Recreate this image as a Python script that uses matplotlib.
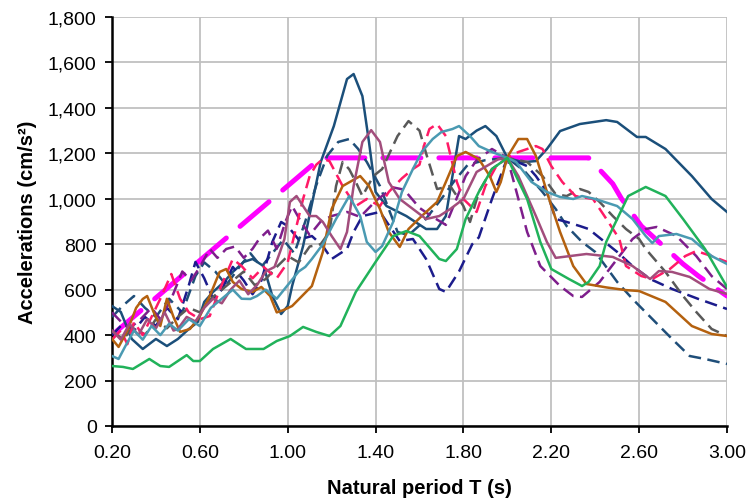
import matplotlib.pyplot as plt
from matplotlib.ticker import FixedLocator, FuncFormatter

plt.rcParams['font.family'] = ['Liberation Sans', 'DejaVu Sans']

# design spectrum (thick magenta)
design_T = [0.20, 1.15, 2.37, 2.48, 2.52, 2.61, 2.80, 2.87, 3.00]
design_A = [400, 1180, 1180, 1066, 1000, 880, 713, 660, 572]

# dark blue solid record
blue_s_T = [0.20, 0.24, 0.29, 0.34, 0.40, 0.45, 0.50, 0.55, 0.59, 0.62, 0.66, 0.71, 0.75, 0.80, 0.84,
            0.89, 0.93, 0.97, 1.00, 1.02, 1.07, 1.15, 1.21, 1.27, 1.30, 1.34, 1.37, 1.40, 1.45, 1.54,
            1.63, 1.68, 1.72, 1.75, 1.78, 1.81, 1.86, 1.90, 1.95, 2.00, 2.07, 2.13, 2.18, 2.24, 2.33,
            2.45, 2.50, 2.59, 2.63, 2.72, 2.84, 2.93, 3.00]
blue_s_A = [528, 502, 383, 339, 383, 352, 383, 427, 457, 546, 590, 634, 678, 722, 735,
            704, 572, 493, 528, 616, 792, 1161, 1320, 1527, 1549, 1452, 1250, 1030, 968, 924,
            867, 867, 924, 1100, 1276, 1263, 1300, 1320, 1276, 1180, 1161, 1166, 1219, 1298, 1329,
            1346, 1338, 1272, 1272, 1219, 1100, 999, 942]

# dark blue dashed record
blue_d_T = [0.20, 0.25, 0.30, 0.35, 0.40, 0.46, 0.52, 0.58, 0.62, 0.67, 0.72, 0.78, 0.83, 0.88, 0.93,
            0.98, 1.03, 1.08, 1.13, 1.18, 1.23, 1.28, 1.32, 1.36, 1.42, 1.46, 1.50, 1.55, 1.62, 1.70,
            1.76, 1.82, 1.90, 2.00, 2.08, 2.16, 2.22, 2.27, 2.34, 2.40, 2.45, 2.50, 2.57, 2.66, 2.75,
            2.83, 2.90, 3.00]
blue_d_A = [480, 530, 572, 520, 480, 560, 500, 660, 720, 680, 620, 700, 760, 700, 760,
            820, 760, 900, 1060, 1190, 1250, 1263, 1220, 1162, 1056, 955, 854, 840, 900, 1000,
            1080, 1150, 1170, 1180, 1120, 1030, 955, 880, 810, 766, 700, 634, 559, 471, 383,
            308, 295, 273]

# navy dashed record
navy_T = [0.20, 0.25, 0.30, 0.35, 0.40, 0.45, 0.50, 0.55, 0.58, 0.62, 0.66, 0.70, 0.75, 0.80, 0.84,
          0.88, 0.93, 0.97, 1.00, 1.05, 1.11, 1.16, 1.20, 1.27, 1.30, 1.34, 1.42, 1.51, 1.57, 1.63,
          1.69, 1.72, 1.78, 1.84, 1.87, 1.93, 2.00, 2.09, 2.13, 2.18, 2.22, 2.27, 2.33, 2.37, 2.50,
          2.57, 2.65, 2.75, 2.87, 3.00]
navy_A = [400, 450, 420, 480, 440, 520, 470, 620, 722, 650, 560, 600, 700, 640, 580,
          640, 810, 898, 880, 820, 836, 792, 735, 779, 854, 924, 942, 814, 823, 735,
          603, 590, 680, 800, 830, 999, 1180, 1144, 1100, 1030, 911, 898, 880, 867, 766,
          704, 647, 603, 559, 515]

# purple dashed record
purple_T = [0.20, 0.24, 0.28, 0.33, 0.38, 0.42, 0.47, 0.52, 0.56, 0.60, 0.645, 0.68, 0.72, 0.76, 0.80,
            0.84, 0.87, 0.91, 0.95, 0.99, 1.02, 1.06, 1.10, 1.15, 1.20, 1.27, 1.33, 1.40, 1.48, 1.53,
            1.60, 1.66, 1.72, 1.76, 1.81, 1.86, 1.93, 2.00, 2.05, 2.09, 2.15, 2.24, 2.30, 2.34, 2.42,
            2.50, 2.57, 2.63, 2.68, 2.77, 2.86, 2.93, 3.00]
purple_A = [500, 460, 430, 470, 520, 470, 560, 680, 640, 700, 779, 740, 779, 790, 740,
            780, 823, 860, 780, 900, 968, 900, 840, 900, 924, 942, 920, 990, 1050, 1040,
            960, 920, 885, 980, 1100, 1170, 1219, 1180, 1000, 854, 704, 616, 572, 568, 634,
            735, 823, 867, 876, 836, 748, 660, 603]

# grey dashed record
grey_T = [0.20, 0.25, 0.30, 0.35, 0.40, 0.45, 0.50, 0.55, 0.60, 0.65, 0.70, 0.75, 0.80, 0.85, 0.90,
          0.95, 1.00, 1.05, 1.10, 1.15, 1.19, 1.22, 1.25, 1.28, 1.31, 1.34, 1.39, 1.43, 1.50, 1.55,
          1.60, 1.63, 1.68, 1.74, 1.80, 1.83, 1.87, 1.93, 2.00, 2.09, 2.16, 2.22, 2.27, 2.33, 2.37,
          2.42, 2.48, 2.54, 2.60, 2.63, 2.72, 2.80, 2.86, 2.93, 3.00]
grey_A = [420, 380, 440, 400, 470, 430, 480, 520, 500, 560, 600, 640, 680, 620, 647,
          700, 748, 720, 790, 800, 854, 1056, 1162, 1130, 1074, 1012, 1100, 1131, 1276, 1342,
          1300, 1200, 1043, 1056, 968, 898, 1030, 1131, 1180, 1162, 1100, 1020, 1012, 1043, 1030,
          986, 924, 867, 823, 779, 678, 572, 502, 427, 396]

# pink dashed record
pink_T = [0.20, 0.24, 0.27, 0.30, 0.34, 0.38, 0.42, 0.47, 0.51, 0.55, 0.60, 0.645, 0.69, 0.75, 0.79,
          0.84, 0.89, 0.95, 1.00, 1.04, 1.07, 1.10, 1.13, 1.16, 1.19, 1.25, 1.31, 1.36, 1.42, 1.46,
          1.52, 1.57, 1.60, 1.62, 1.645, 1.68, 1.72, 1.77, 1.80, 1.86, 1.90, 1.95, 2.00, 2.05, 2.13,
          2.16, 2.20, 2.25, 2.31, 2.39, 2.46, 2.51, 2.54, 2.61, 2.66, 2.74, 2.81, 2.86, 2.93, 3.00]
pink_A = [380, 420, 360, 457, 400, 480, 560, 669, 560, 500, 470, 484, 600, 735, 704,
          650, 700, 650, 720, 880, 999, 1100, 1150, 1175, 1166, 1056, 968, 999, 968, 1030,
          1090, 1131, 1150, 1232, 1307, 1329, 1276, 1074, 999, 942, 1056, 1144, 1180, 1206, 1232,
          1219, 1144, 1074, 1012, 999, 898, 823, 704, 660, 647, 691, 748, 770, 748, 722]

# brown solid record
brown_T = [0.20, 0.23, 0.27, 0.31, 0.34, 0.36, 0.39, 0.42, 0.45, 0.48, 0.51, 0.555, 0.60, 0.645, 0.69,
           0.72, 0.75, 0.79, 0.84, 0.88, 0.92, 0.95, 0.98, 1.02, 1.11, 1.16, 1.20, 1.25, 1.33, 1.37,
           1.42, 1.46, 1.51, 1.55, 1.61, 1.68, 1.72, 1.77, 1.81, 1.87, 1.92, 1.95, 1.97, 2.00, 2.05,
           2.09, 2.13, 2.19, 2.24, 2.30, 2.36, 2.45, 2.54, 2.60, 2.72, 2.84, 2.93, 3.00]
brown_A = [383, 348, 420, 520, 559, 572, 500, 440, 560, 480, 414, 427, 484, 572, 678,
           691, 634, 603, 590, 612, 572, 500, 510, 528, 616, 766, 955, 1056, 1100, 1056,
           955, 854, 788, 867, 924, 986, 1074, 1188, 1206, 1175, 1100, 1030, 1074, 1184, 1263,
           1263, 1188, 999, 854, 704, 625, 610, 598, 594, 546, 440, 405, 396]

# mauve solid record
mauve_T = [0.20, 0.24, 0.28, 0.32, 0.36, 0.40, 0.44, 0.48, 0.50, 0.54, 0.58, 0.62, 0.66, 0.70, 0.74,
           0.78, 0.82, 0.86, 0.90, 0.94, 0.965, 0.985, 1.01, 1.04, 1.07, 1.10, 1.13, 1.16, 1.20, 1.24,
           1.27, 1.30, 1.34, 1.38, 1.42, 1.46, 1.51, 1.57, 1.63, 1.69, 1.74, 1.80, 1.86, 1.96, 2.00,
           2.05, 2.13, 2.18, 2.22, 2.36, 2.48, 2.57, 2.65, 2.69, 2.75, 2.83, 2.92, 3.00]
mauve_A = [420, 380, 450, 400, 470, 430, 500, 420, 427, 480, 460, 520, 560, 540, 600,
           640, 580, 620, 680, 700, 766, 823, 986, 1012, 968, 924, 924, 898, 836, 779,
           854, 1056, 1250, 1302, 1250, 1074, 999, 955, 911, 924, 955, 999, 1118, 1175, 1180,
           1100, 924, 810, 740, 757, 744, 704, 647, 682, 678, 656, 603, 581]

# teal solid record
teal_T = [0.20, 0.23, 0.26, 0.30, 0.34, 0.38, 0.42, 0.46, 0.50, 0.55, 0.60, 0.65, 0.70, 0.75, 0.79,
          0.83, 0.86, 0.90, 0.95, 1.00, 1.05, 1.08, 1.11, 1.16, 1.22, 1.28, 1.33, 1.36, 1.40, 1.43,
          1.48, 1.52, 1.57, 1.61, 1.66, 1.70, 1.75, 1.78, 1.83, 1.87, 1.93, 2.00, 2.04, 2.11, 2.18,
          2.24, 2.30, 2.34, 2.40, 2.50, 2.57, 2.63, 2.66, 2.69, 2.77, 2.84, 2.93, 3.00]
teal_A = [308, 295, 350, 420, 380, 440, 400, 450, 420, 470, 440, 520, 560, 600, 560,
          559, 572, 600, 560, 620, 680, 700, 735, 800, 911, 1012, 924, 810, 766, 792,
          898, 1030, 1131, 1206, 1263, 1294, 1307, 1320, 1276, 1232, 1206, 1180, 1162, 1074, 1030,
          1008, 999, 1012, 999, 968, 911, 836, 805, 836, 845, 823, 748, 713]

# green solid record
green_T = [0.20, 0.25, 0.295, 0.37, 0.42, 0.46, 0.54, 0.57, 0.60, 0.66, 0.74, 0.81, 0.89, 0.95, 1.01,
           1.07, 1.13, 1.19, 1.24, 1.31, 1.40, 1.48, 1.54, 1.60, 1.69, 1.72, 1.77, 1.81, 1.87, 1.93,
           2.00, 2.09, 2.15, 2.20, 2.28, 2.34, 2.37, 2.42, 2.45, 2.55, 2.63, 2.72, 2.80, 2.90, 3.00]
green_A = [264, 260, 251, 295, 264, 260, 312, 286, 286, 339, 383, 339, 339, 374, 396,
           436, 414, 396, 440, 590, 722, 836, 858, 836, 735, 726, 779, 911, 1030, 1131,
           1180, 999, 810, 691, 647, 616, 634, 704, 810, 1012, 1052, 1012, 911, 779, 612]

x_ticks = [0.20, 0.60, 1.00, 1.40, 1.80, 2.20, 2.60, 3.00]
y_ticks = [0, 200, 400, 600, 800, 1000, 1200, 1400, 1600, 1800]

fig = plt.figure(figsize=(7.48, 5.02), dpi=100)
ax = fig.add_axes([112 / 748, 1 - 427 / 502, (727 - 112) / 748, (427 - 18) / 502])

dash = (0, (5, 2.6))
ax.plot(design_T, design_A, color='#FF00FF', lw=3.6, ls=(0, (7.6, 3.6)),
        dash_capstyle='round', zorder=2)

records = [
    (blue_s_T, blue_s_A, '#1B4F7A', '-'),
    (blue_d_T, blue_d_A, '#1F4E79', dash),
    (navy_T, navy_A, '#1C1C8C', dash),
    (purple_T, purple_A, '#7E1E8C', dash),
    (grey_T, grey_A, '#595959', dash),
    (pink_T, pink_A, '#FF1A66', dash),
    (brown_T, brown_A, '#B4610F', '-'),
    (mauve_T, mauve_A, '#A24D7C', '-'),
    (teal_T, teal_A, '#4A9AB2', '-'),
    (green_T, green_A, '#21B25A', '-'),
]
for t, a, c, ls in records:
    ax.plot(t, a, color=c, lw=1.8, ls=ls, zorder=3, solid_joinstyle='round')

ax.set_xlim(0.2, 3.0)
ax.set_ylim(0, 1800)
ax.xaxis.set_major_locator(FixedLocator(x_ticks))
ax.yaxis.set_major_locator(FixedLocator(y_ticks))
ax.xaxis.set_major_formatter(FuncFormatter(lambda v, p: f'{v:.2f}'))
ax.yaxis.set_major_formatter(FuncFormatter(lambda v, p: f'{v:,.0f}'))
ax.grid(True, color='#C0C0C0', lw=1.3)
ax.set_axisbelow(True)
for s in ['top', 'right']:
    ax.spines[s].set_visible(False)
for s in ['left', 'bottom']:
    ax.spines[s].set_linewidth(1.8)
ax.tick_params(direction='out', length=5, width=1.3, labelsize=14, colors='black')
ax.tick_params(axis='x', pad=8)
ax.tick_params(axis='y', pad=6)

ax.set_xlabel('Natural period T (s)', fontsize=14.5, fontweight='bold', labelpad=12)
ax.set_ylabel('Accelerations (cm/s²)', fontsize=14.5, fontweight='bold', labelpad=8)

fig.savefig('out.png', dpi=100)
